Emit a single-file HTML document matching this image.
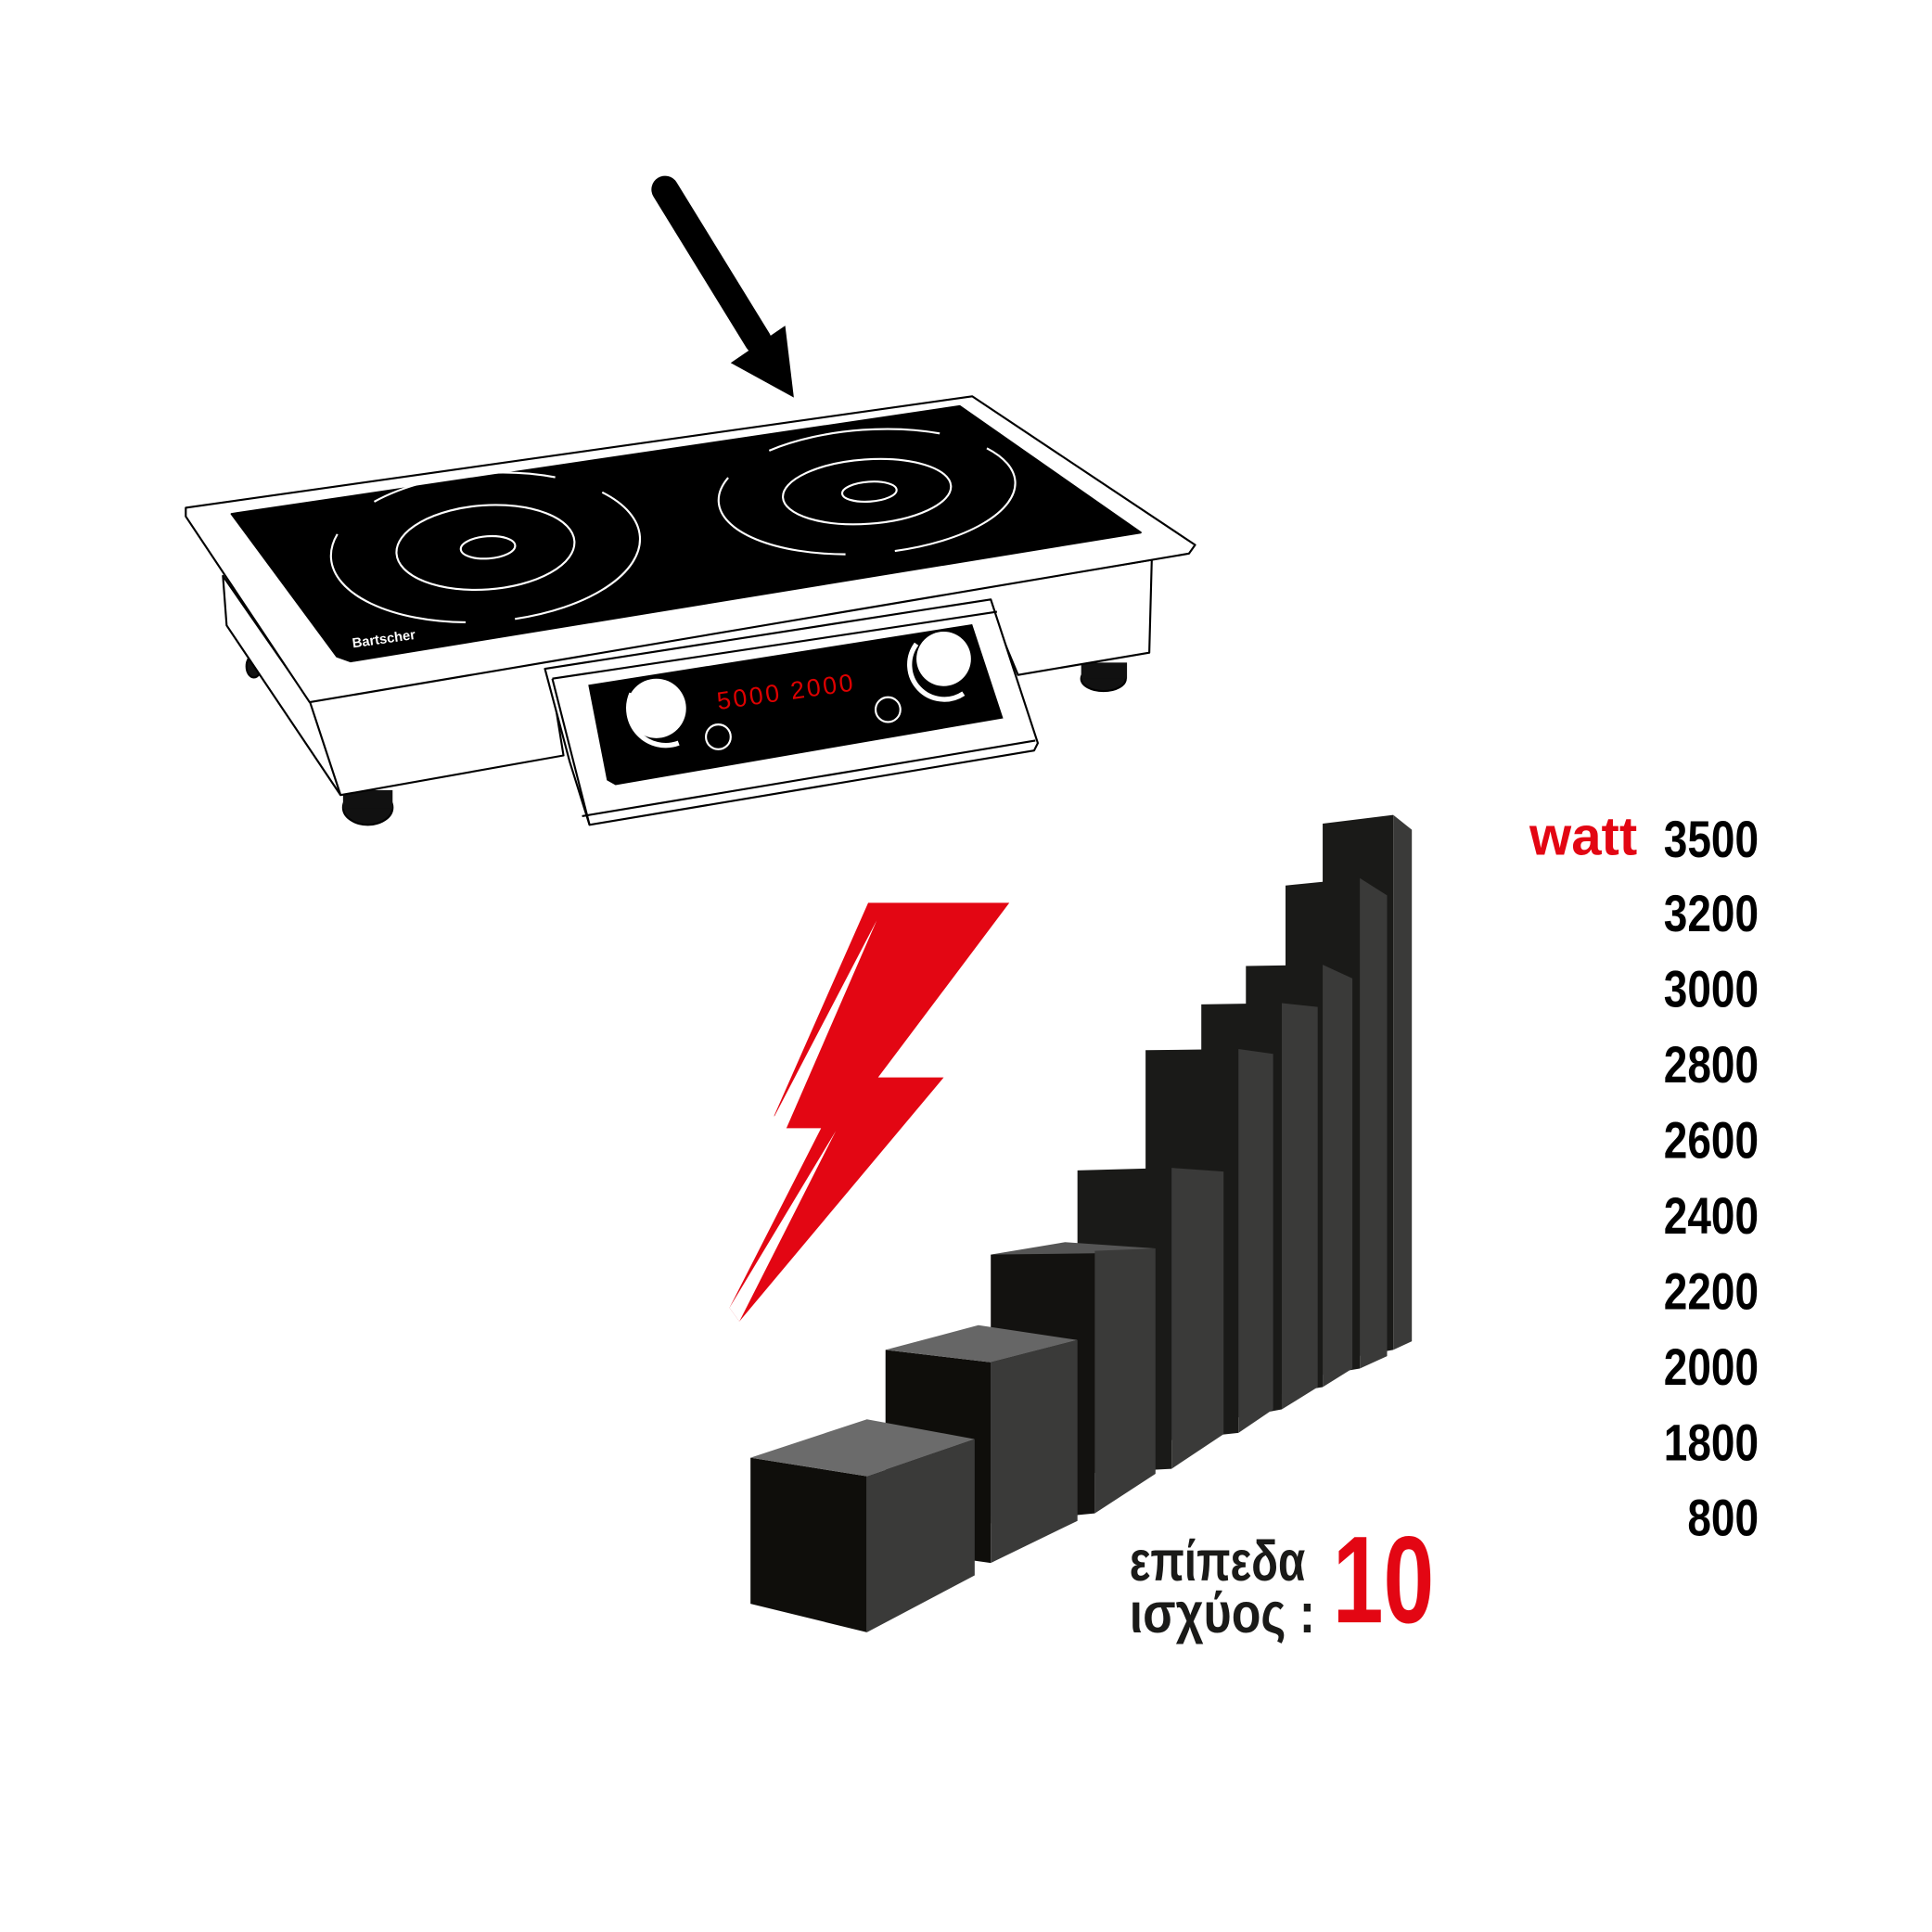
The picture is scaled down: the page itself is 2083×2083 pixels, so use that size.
<!DOCTYPE html>
<html><head><meta charset="utf-8"><style>
html,body{margin:0;padding:0;background:#fff;}
svg{display:block;}
text{font-family:"Liberation Sans",sans-serif;font-weight:bold;}
</style></head><body>
<svg width="2083" height="2083" viewBox="0 0 1560 1560" xmlns="http://www.w3.org/2000/svg">
<rect width="1560" height="1560" fill="#fff"/>
<!-- arrow -->
<line x1="537" y1="153" x2="612" y2="275" stroke="#000" stroke-width="22" stroke-linecap="round"/>
<polygon points="590,293 641,321 634,263" fill="#000"/>
<!-- cooktop -->
<g fill="none" stroke="#000" stroke-width="1.6" stroke-linejoin="round">
<ellipse cx="297" cy="652" rx="20" ry="14" fill="#111"/>
<rect x="277" y="638" width="40" height="15" fill="#111" stroke="none"/>
<ellipse cx="891" cy="548" rx="18" ry="10" fill="#111"/>
<rect x="873" y="535" width="37" height="13" fill="#111" stroke="none"/>
<ellipse cx="205" cy="538" rx="6" ry="9" fill="#111"/>
<polygon points="180,465 183,505 275,642 455,610 445,548 800,492 822,545 928,527 930,452 250,566" fill="#fff"/>
<line x1="250" y1="566" x2="275" y2="642"/>
<polygon points="150,410 785,320 965,440 960,447 250,567 150,417" fill="#fff"/>
<polygon points="187,415 775,328 921,430 283,534 272,530" fill="#000"/>
<!-- control panel -->
<polygon points="440,540 800,484 838,600 835,606 476,666 460,615" fill="#fff"/>
<line x1="446" y1="548" x2="805" y2="494"/>
<line x1="446" y1="548" x2="476" y2="666"/>
<line x1="470" y1="659" x2="836" y2="598"/>
<polygon points="475,553 785,504 810,580 497,634 490,630" fill="#000" stroke="none"/>
</g>
<!-- burners -->
<g fill="none" stroke="#fff" stroke-width="1.6">
<ellipse cx="392" cy="442" rx="72" ry="34" transform="rotate(-4 392 442)"/>
<ellipse cx="394" cy="442" rx="22" ry="9" transform="rotate(-4 394 442)"/>
<ellipse cx="392" cy="442" rx="125" ry="60" transform="rotate(-4 392 442)" stroke-dasharray="150 40" stroke-dashoffset="20"/>
<ellipse cx="700" cy="397" rx="68" ry="26" transform="rotate(-4 700 397)"/>
<ellipse cx="702" cy="397" rx="22" ry="8" transform="rotate(-4 702 397)"/>
<ellipse cx="700" cy="397" rx="120" ry="50" transform="rotate(-4 700 397)" stroke-dasharray="140 40" stroke-dashoffset="20"/>
<circle cx="580" cy="595" r="10"/>
<circle cx="717" cy="573" r="10"/>
</g>
<text x="285" y="523" fill="#fff" font-size="11" transform="rotate(-8 285 523)">Bartscher</text>
<g fill="#fff">
<circle cx="530" cy="572" r="24"/>
<circle cx="762" cy="532" r="22"/>
</g>
<path d="M510,560 A30,30 0 0 0 548,600" stroke="#fff" stroke-width="4" fill="none"/>
<path d="M740,520 A28,28 0 0 0 778,560" stroke="#fff" stroke-width="4" fill="none"/>
<text x="580" y="573" fill="#d00" font-size="20" transform="rotate(-8 580 573)" style="font-weight:normal;letter-spacing:2px">5000  2000</text>
<!-- bars (back to front) -->
<g>
<polygon points="1068,665 1125,658 1125,1090 1068,1100" fill="#1a1a18"/>
<polygon points="1125,658 1140,670 1140,1083 1125,1090" fill="#3a3a39"/>
<polygon points="1038,715 1098,709 1098,1105 1038,1115" fill="#1a1a18"/>
<polygon points="1098,709 1120,723 1120,1095 1098,1105" fill="#3a3a39"/>
<polygon points="1006,780 1068,779 1068,1120 1006,1130" fill="#1a1a18"/>
<polygon points="1068,779 1092,790 1092,1105 1068,1120" fill="#3a3a39"/>
<polygon points="970,811 1035,810 1035,1138 970,1150" fill="#1a1a18"/>
<polygon points="1035,810 1064,813 1064,1120 1035,1138" fill="#3a3a39"/>
<polygon points="925,848 1000,847 1000,1157 925,1165" fill="#1a1a18"/>
<polygon points="1000,847 1028,851 1028,1138 1000,1157" fill="#3a3a39"/>
<polygon points="870,945 946,943 946,1186 870,1190" fill="#1a1a18"/>
<polygon points="946,943 988,946 988,1158 946,1186" fill="#3a3a39"/>
<polygon points="800,1013 884,1008 884,1222 800,1230" fill="#131210"/>
<polygon points="800,1013 860,1003 933,1008 884,1012" fill="#555"/>
<polygon points="884,1010 933,1008 933,1190 884,1222" fill="#3a3a39"/>
<polygon points="715,1090 800,1100 800,1262 715,1250" fill="#0f0e0b"/>
<polygon points="715,1090 790,1070 870,1082 800,1100" fill="#666"/>
<polygon points="800,1100 870,1082 870,1228 800,1262" fill="#3a3a39"/>
<polygon points="606,1177 700,1192 700,1318 606,1295" fill="#0f0e0b"/>
<polygon points="606,1177 700,1146 787,1162 700,1192" fill="#6b6b6b"/>
<polygon points="700,1192 787,1162 787,1272 700,1318" fill="#3a3a39"/>
</g>
<!-- lightning -->
<polygon points="701,729 815,729 709,870 762,870 597,1067 589,1056 663,911 635,911 625,901" fill="#e30613"/>
<polygon points="708,743 625,902 635,911" fill="#fff"/>
<polygon points="675,913 589,1056 597,1067" fill="#fff"/>
<!-- labels -->
<text x="1235" y="690" fill="#e30613" font-size="44" textLength="87" lengthAdjust="spacingAndGlyphs">watt</text>
<g font-size="42" fill="#000" text-anchor="end">
<text transform="translate(1420,692) scale(0.82,1)">3500</text>
<text transform="translate(1420,752) scale(0.82,1)">3200</text>
<text transform="translate(1420,813) scale(0.82,1)">3000</text>
<text transform="translate(1420,874) scale(0.82,1)">2800</text>
<text transform="translate(1420,935) scale(0.82,1)">2600</text>
<text transform="translate(1420,996) scale(0.82,1)">2400</text>
<text transform="translate(1420,1057) scale(0.82,1)">2200</text>
<text transform="translate(1420,1118) scale(0.82,1)">2000</text>
<text transform="translate(1420,1179) scale(0.82,1)">1800</text>
<text transform="translate(1420,1240) scale(0.82,1)">800</text>
</g>
<text x="912" y="1276" font-size="46" fill="#1a1a18" textLength="142" lengthAdjust="spacingAndGlyphs" style="font-family:'Liberation Sans','DejaVu Sans',sans-serif;font-weight:bold">επίπεδα</text>
<text x="912" y="1318" font-size="46" fill="#1a1a18" textLength="150" lengthAdjust="spacingAndGlyphs" style="font-family:'Liberation Sans','DejaVu Sans',sans-serif;font-weight:bold">ισχύος :</text>
<text x="1076" y="1310" font-size="100" fill="#e30613" textLength="82" lengthAdjust="spacingAndGlyphs">10</text>
</svg>
</body></html>
